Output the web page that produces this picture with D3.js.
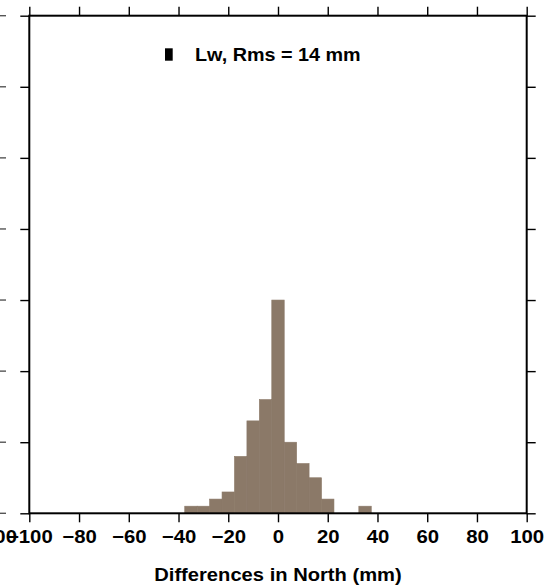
<!DOCTYPE html>
<html>
<head>
<meta charset="utf-8">
<script src="https://cdn.jsdelivr.net/npm/d3@7"></script>
<style>
  body { margin: 0; background: #fff; }
  svg text { font-family: "Liberation Sans", Arial, Helvetica, sans-serif; font-weight: bold; fill: #000; }
</style>
</head>
<body>
<svg id="chart" width="552" height="585"></svg>
<script>
// histogram bins (centre of each 5 mm bin) and counts
const binCenters = [-35, -30, -25, -20, -15, -10, -5, 0, 5, 10, 15, 20, 25, 30, 35];
const counts = [1, 1, 2, 3, 8, 13, 16, 30, 10, 7, 5, 2, 0, 0, 1];
const binWidth = 5;
const xTicks = [-100, -80, -60, -40, -20, 0, 20, 40, 60, 80, 100];
const yTicks = [0, 10, 20, 30, 40, 50, 60, 70];
const legendLabel = 'Lw, Rms = 14 mm';
const xTitle = 'Differences in North (mm)';

const plotL = 29.3, plotR = 526.7, plotT = 15.7, plotB = 513.3;
const tickLen = 9;
const stretch = 1.13; // the original lettering is a bit wider than Liberation Sans

const svg = d3.select('#chart');

const x = d3.scaleLinear().domain([-100, 100]).range([plotL, plotR]);
const y = d3.scaleLinear().domain([0, 70]).range([plotB, plotT]);

const fmt = d => d < 0 ? '\u2212' + Math.abs(d) : String(d);
const barColor = '#8b7968';

// bars
svg.append('g').selectAll('rect')
    .data(binCenters.map((c, i) => ({ c: c, n: counts[i] })).filter(d => d.n > 0))
    .enter()
    .append('rect')
    .attr('x', d => x(d.c - binWidth / 2))
    .attr('width', d => x(d.c + binWidth / 2) - x(d.c - binWidth / 2))
    .attr('y', d => y(d.n))
    .attr('height', d => y(0) - y(d.n))
    .attr('fill', barColor)
    .attr('stroke', barColor)
    .attr('stroke-width', 0.6);

// axes, ticks outward
const axisStyle = (g) => {
    g.select('.domain').remove();
    g.selectAll('line').attr('stroke', '#000').attr('stroke-width', 1.4);
};

const bottomAxis = svg.append('g')
    .attr('transform', `translate(0,${plotB})`)
    .call(d3.axisBottom(x).tickValues(xTicks).tickSize(tickLen).tickFormat(fmt))
    .call(axisStyle);
bottomAxis.selectAll('text')
    .attr('y', 0).attr('dy', 0)
    .attr('transform', `translate(0,30) scale(${stretch},1)`)
    .style('font-size', '18px');

svg.append('g')
    .attr('transform', `translate(0,${plotT})`)
    .call(d3.axisTop(x).tickValues(xTicks).tickSize(tickLen).tickFormat(''))
    .call(axisStyle);

svg.append('g')
    .attr('transform', `translate(${plotL},0)`)
    .call(d3.axisLeft(y).tickValues(yTicks).tickSize(tickLen).tickFormat(''))
    .call(axisStyle);

svg.append('g')
    .attr('transform', `translate(${plotR},0)`)
    .call(d3.axisRight(y).tickValues(yTicks).tickSize(tickLen).tickFormat(''))
    .call(axisStyle);

// frame
svg.append('rect')
    .attr('x', plotL).attr('y', plotT)
    .attr('width', plotR - plotL).attr('height', plotB - plotT)
    .attr('fill', 'none').attr('stroke', '#000').attr('stroke-width', 2);

// remnants of the neighbouring panel on the left edge
svg.append('g').selectAll('line')
    .data(yTicks)
    .enter()
    .append('line')
    .attr('x1', 0).attr('x2', 6)
    .attr('y1', d => y(d)).attr('y2', d => y(d))
    .attr('stroke', '#555').attr('stroke-width', 1.4);
svg.append('text')
    .attr('transform', `translate(0,${plotB + 30}) scale(${stretch},1)`)
    .attr('text-anchor', 'middle')
    .style('font-size', '18px')
    .text('100');

// legend
svg.append('rect')
    .attr('x', 165).attr('y', 48.3)
    .attr('width', 7.7).attr('height', 12.4)
    .attr('fill', '#000');
svg.append('text')
    .attr('transform', `translate(195,60.7) scale(${stretch},1)`)
    .style('font-size', '17.5px')
    .text(legendLabel);

// x title
svg.append('text')
    .attr('transform', `translate(${(plotL + plotR) / 2},581) scale(1.09,1)`)
    .attr('text-anchor', 'middle')
    .style('font-size', '18.5px')
    .text(xTitle);
</script>
</body>
</html>
